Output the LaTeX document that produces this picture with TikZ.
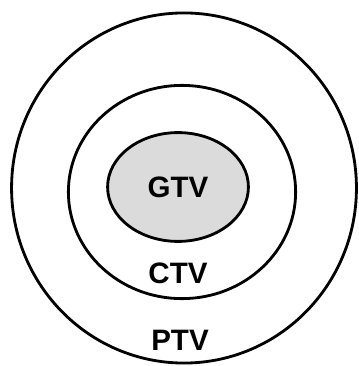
\documentclass[tikz,border=0pt]{standalone}
\usepackage{fontspec}
\setmainfont{Liberation Sans}
\usetikzlibrary{shapes.geometric,positioning}

\begin{document}
\begin{tikzpicture}[
  x=0.025cm, y=-0.025cm,
  vol/.style={ellipse, draw, line width=2pt, inner sep=0pt},
  tag/.style={font=\fontsize{21}{24}\selectfont\bfseries},
]
\useasboundingbox (0,0) rectangle (358,366);

% === Volumes ===
\node[vol, minimum width=8.62cm, minimum height=8.75cm] (ptv) at (184,188) {};
\node[vol, minimum width=5.68cm, minimum height=5.33cm] (ctv) at (182,192) {};
\node[vol, fill=black!14, minimum width=3.52cm, minimum height=2.72cm, tag] (gtv) at (178,187) {GTV};

% === Labels ===
\node[tag] (ctvlab) at (178,273) {CTV};
\node[tag] (ptvlab) at (180,340) {PTV};

\end{tikzpicture}
\end{document}
